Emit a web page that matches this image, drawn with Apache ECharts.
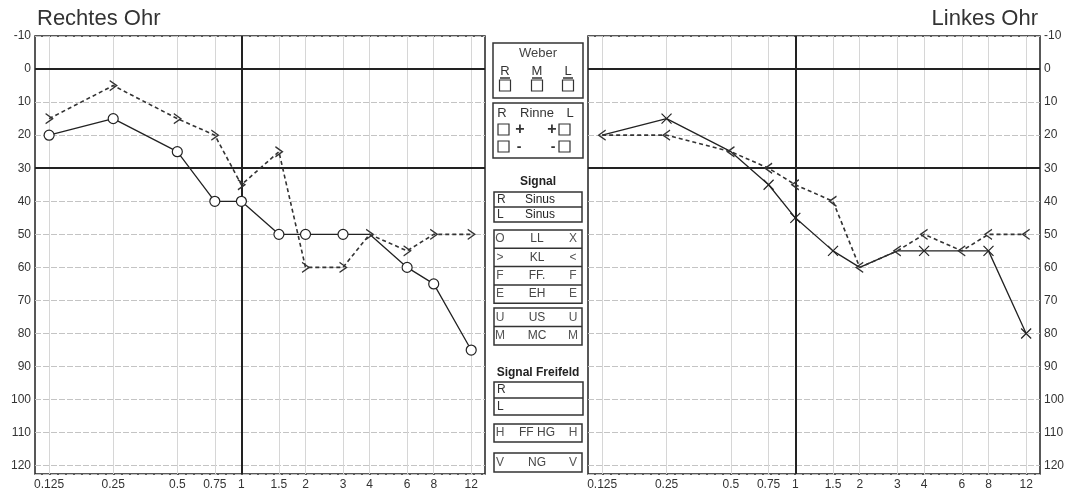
<!DOCTYPE html>
<html>
<head>
<meta charset="utf-8">
<title>Audiogramm</title>
<script src="https://cdn.jsdelivr.net/npm/echarts@6/dist/echarts.min.js"></script>
<style>
html,body{margin:0;padding:0;background:#fff;}
#chart{width:1072px;height:495px;}
</style>
</head>
<body>
<div id="chart"></div>
<script>
// Frequenzen in kHz
var freqs = [0.125, 0.25, 0.5, 0.75, 1, 1.5, 2, 3, 4, 6, 8, 12];

// Rechtes Ohr (dB HL)
var rechtsLuft = [20, 15, 25, 40, 40, 50, 50, 50, 50, 60, 65, 85];
var rechtsKnochen = [15, 5, 15, 20, 35, 25, 60, 60, 50, 55, 50, 50];

// Linkes Ohr (dB HL)
var linksLuft = [20, 15, 25, 35, 45, 55, 60, 55, 55, 55, 55, 80];
var linksKnochen = [20, 20, 25, 30, 35, 40, 60, 55, 50, 55, 50, 50];

// Legende in der Mitte
var weberLabels = ['R', 'M', 'L'];
var signalRows = [['R', 'Sinus'], ['L', 'Sinus']];
var leitungRows = [['O', 'LL', 'X'], ['>', 'KL', '<'], ['F', 'FF.', 'F'], ['E', 'EH', 'E']];
var maskRows = [['U', 'US', 'U'], ['M', 'MC', 'M']];
var freifeldRows = ['R', 'L'];
var hgRow = ['H', 'FF HG', 'H'];
var ngRow = ['V', 'NG', 'V'];

var FONT = '"Liberation Sans", Arial, sans-serif';
var SYM_X = 'path://M0,0L10,10M10,0L0,10';
var SYM_GT = 'path://M0,0L7,5L0,10';
var SYM_LT = 'path://M7,0L0,5L7,10';

var xVals = freqs.map(function (f) { return Math.log2(f); });

function toData(arr) {
    var d = [];
    for (var i = 0; i < freqs.length; i++) {
        d.push([Math.log2(freqs[i]), arr[i]]);
    }
    return d;
}

function fmtFreq(v) {
    var f = Math.pow(2, v);
    return String(Math.round(f * 1000) / 1000);
}

function xAxis(idx) {
    return {
        type: 'value', gridIndex: idx, min: -3.22, max: 3.8,
        axisLine: {show: false},
        axisTick: {show: false, customValues: xVals},
        axisLabel: {customValues: xVals, formatter: fmtFreq, color: '#333', fontSize: 12, fontFamily: FONT, margin: 5},
        splitLine: {show: true, lineStyle: {color: '#d6d6d6', width: 1}}
    };
}

function yAxis(idx, pos) {
    return {
        type: 'value', gridIndex: idx, inverse: true, min: -10, max: 122.5, interval: 10, position: pos,
        axisLine: {show: false}, axisTick: {show: false},
        axisLabel: {
            color: '#333', fontSize: 12, fontFamily: FONT, margin: 4,
            formatter: function (v) { return v % 10 === 0 ? String(v) : ''; }
        },
        splitLine: {show: true, lineStyle: {color: '#c4c4c4', width: 1, type: [6, 2]}}
    };
}

// Luftleitung: Symbol weglassen, wenn Knochenleitung am selben Punkt liegt
function airSeries(idx, air, bone, sym, size, fill) {
    return {
        type: 'line', xAxisIndex: idx, yAxisIndex: idx, data: toData(air),
        symbol: function (val, p) { return air[p.dataIndex] === bone[p.dataIndex] ? 'none' : sym; },
        symbolSize: size, z: 4,
        lineStyle: {color: '#222', width: 1.3},
        itemStyle: {color: fill, borderColor: '#222', borderWidth: 1.2},
        markLine: {
            silent: true, symbol: ['none', 'none'], label: {show: false}, z: 1,
            lineStyle: {color: '#222', width: 2, type: 'solid'},
            data: [{yAxis: 0}, {yAxis: 30}, {xAxis: Math.log2(1)}]
        }
    };
}

function boneSeries(idx, bone, sym) {
    return {
        type: 'line', xAxisIndex: idx, yAxisIndex: idx, data: toData(bone),
        symbol: sym, symbolSize: [7, 10], z: 5,
        lineStyle: {color: '#333', width: 1.6, type: [4, 3]},
        itemStyle: {color: 'rgba(0,0,0,0)', borderColor: '#333', borderWidth: 1.3}
    };
}

// --- Legende (graphic) ---
var g = [];
function box(x, y, w, h) {
    g.push({type: 'rect', shape: {x: x, y: y, width: w, height: h}, style: {fill: '#fff', stroke: '#333', lineWidth: 1.5}});
}
function hline(x1, x2, y) {
    g.push({type: 'line', shape: {x1: x1, y1: y, x2: x2, y2: y}, style: {stroke: '#333', lineWidth: 1.5}});
}
function sq(x, y) {
    g.push({type: 'rect', shape: {x: x, y: y, width: 11, height: 11}, style: {fill: '#fff', stroke: '#333', lineWidth: 1.2}});
}
function txt(s, x, y, opt) {
    opt = opt || {};
    g.push({
        type: 'text', x: x, y: y,
        style: {
            text: s, align: opt.align || 'center', verticalAlign: 'middle',
            font: (opt.bold ? 'bold ' : '') + (opt.size || 12) + 'px ' + FONT,
            fill: opt.color || '#333'
        }
    });
}
function rowBox(rows, y, rh) {
    box(494, y, 88, rows.length * rh);
    for (var i = 0; i < rows.length; i++) {
        var cy = y + rh * i + rh / 2;
        if (i > 0) hline(494, 582, y + rh * i);
        txt(rows[i][0], 500, cy, {color: '#555'});
        txt(rows[i][1], 537, cy, {color: '#444'});
        txt(rows[i][2], 573, cy, {color: '#555'});
    }
}

// Weber
box(493, 43, 90, 55);
txt('Weber', 538, 53, {size: 13, color: '#444'});
var wx = [505, 537, 568];
for (var i = 0; i < weberLabels.length; i++) {
    txt(weberLabels[i], wx[i], 71, {size: 13});
    hline(wx[i] - 5, wx[i] + 5, 78);
    sq(wx[i] - 5.5, 80);
}

// Rinne
box(493, 103, 90, 55);
txt('R', 502, 113, {size: 13});
txt('Rinne', 537, 113, {size: 13});
txt('L', 570, 113, {size: 13});
sq(498, 124); txt('+', 520, 130, {size: 16, bold: true});
sq(559, 124); txt('+', 552, 130, {size: 16, bold: true});
sq(498, 141); txt('-', 519, 147, {size: 14, bold: true});
sq(559, 141); txt('-', 553, 147, {size: 14, bold: true});

// Signal
txt('Signal', 538, 182, {bold: true, color: '#222'});
box(494, 192, 88, 30);
hline(494, 582, 207);
for (var j = 0; j < signalRows.length; j++) {
    txt(signalRows[j][0], 497, 199.5 + j * 15, {align: 'left', color: '#333'});
    txt(signalRows[j][1], 540, 199.5 + j * 15, {color: '#222'});
}
rowBox(leitungRows, 230, 18.3);
rowBox(maskRows, 308, 18.5);

// Signal Freifeld
txt('Signal Freifeld', 538, 373, {bold: true, color: '#222'});
box(494, 382, 89, 33);
hline(494, 583, 398);
txt(freifeldRows[0], 497, 390, {align: 'left'});
txt(freifeldRows[1], 497, 406.5, {align: 'left'});
rowBox([hgRow], 424, 18);
rowBox([ngRow], 453, 19);

var chart = echarts.init(document.getElementById('chart'), null, {renderer: 'canvas'});
chart.setOption({
    animation: false,
    backgroundColor: '#fff',
    title: [
        {text: 'Rechtes Ohr', left: 37, top: 8, padding: 0, textStyle: {fontSize: 22, fontWeight: 'normal', color: '#333', fontFamily: FONT}},
        {text: 'Linkes Ohr', right: 34, top: 8, padding: 0, textStyle: {fontSize: 22, fontWeight: 'normal', color: '#333', fontFamily: FONT}}
    ],
    grid: [
        {left: 35, top: 36, width: 450, height: 438, show: true, borderColor: '#222', borderWidth: 1.5},
        {left: 588, top: 36, width: 452, height: 438, show: true, borderColor: '#222', borderWidth: 1.5}
    ],
    xAxis: [xAxis(0), xAxis(1)],
    yAxis: [yAxis(0, 'left'), yAxis(1, 'right')],
    series: [
        airSeries(0, rechtsLuft, rechtsKnochen, 'circle', 10, '#fff'),
        boneSeries(0, rechtsKnochen, SYM_GT),
        airSeries(1, linksLuft, linksKnochen, SYM_X, 10, 'rgba(0,0,0,0)'),
        boneSeries(1, linksKnochen, SYM_LT)
    ],
    graphic: g
});
</script>
</body>
</html>
